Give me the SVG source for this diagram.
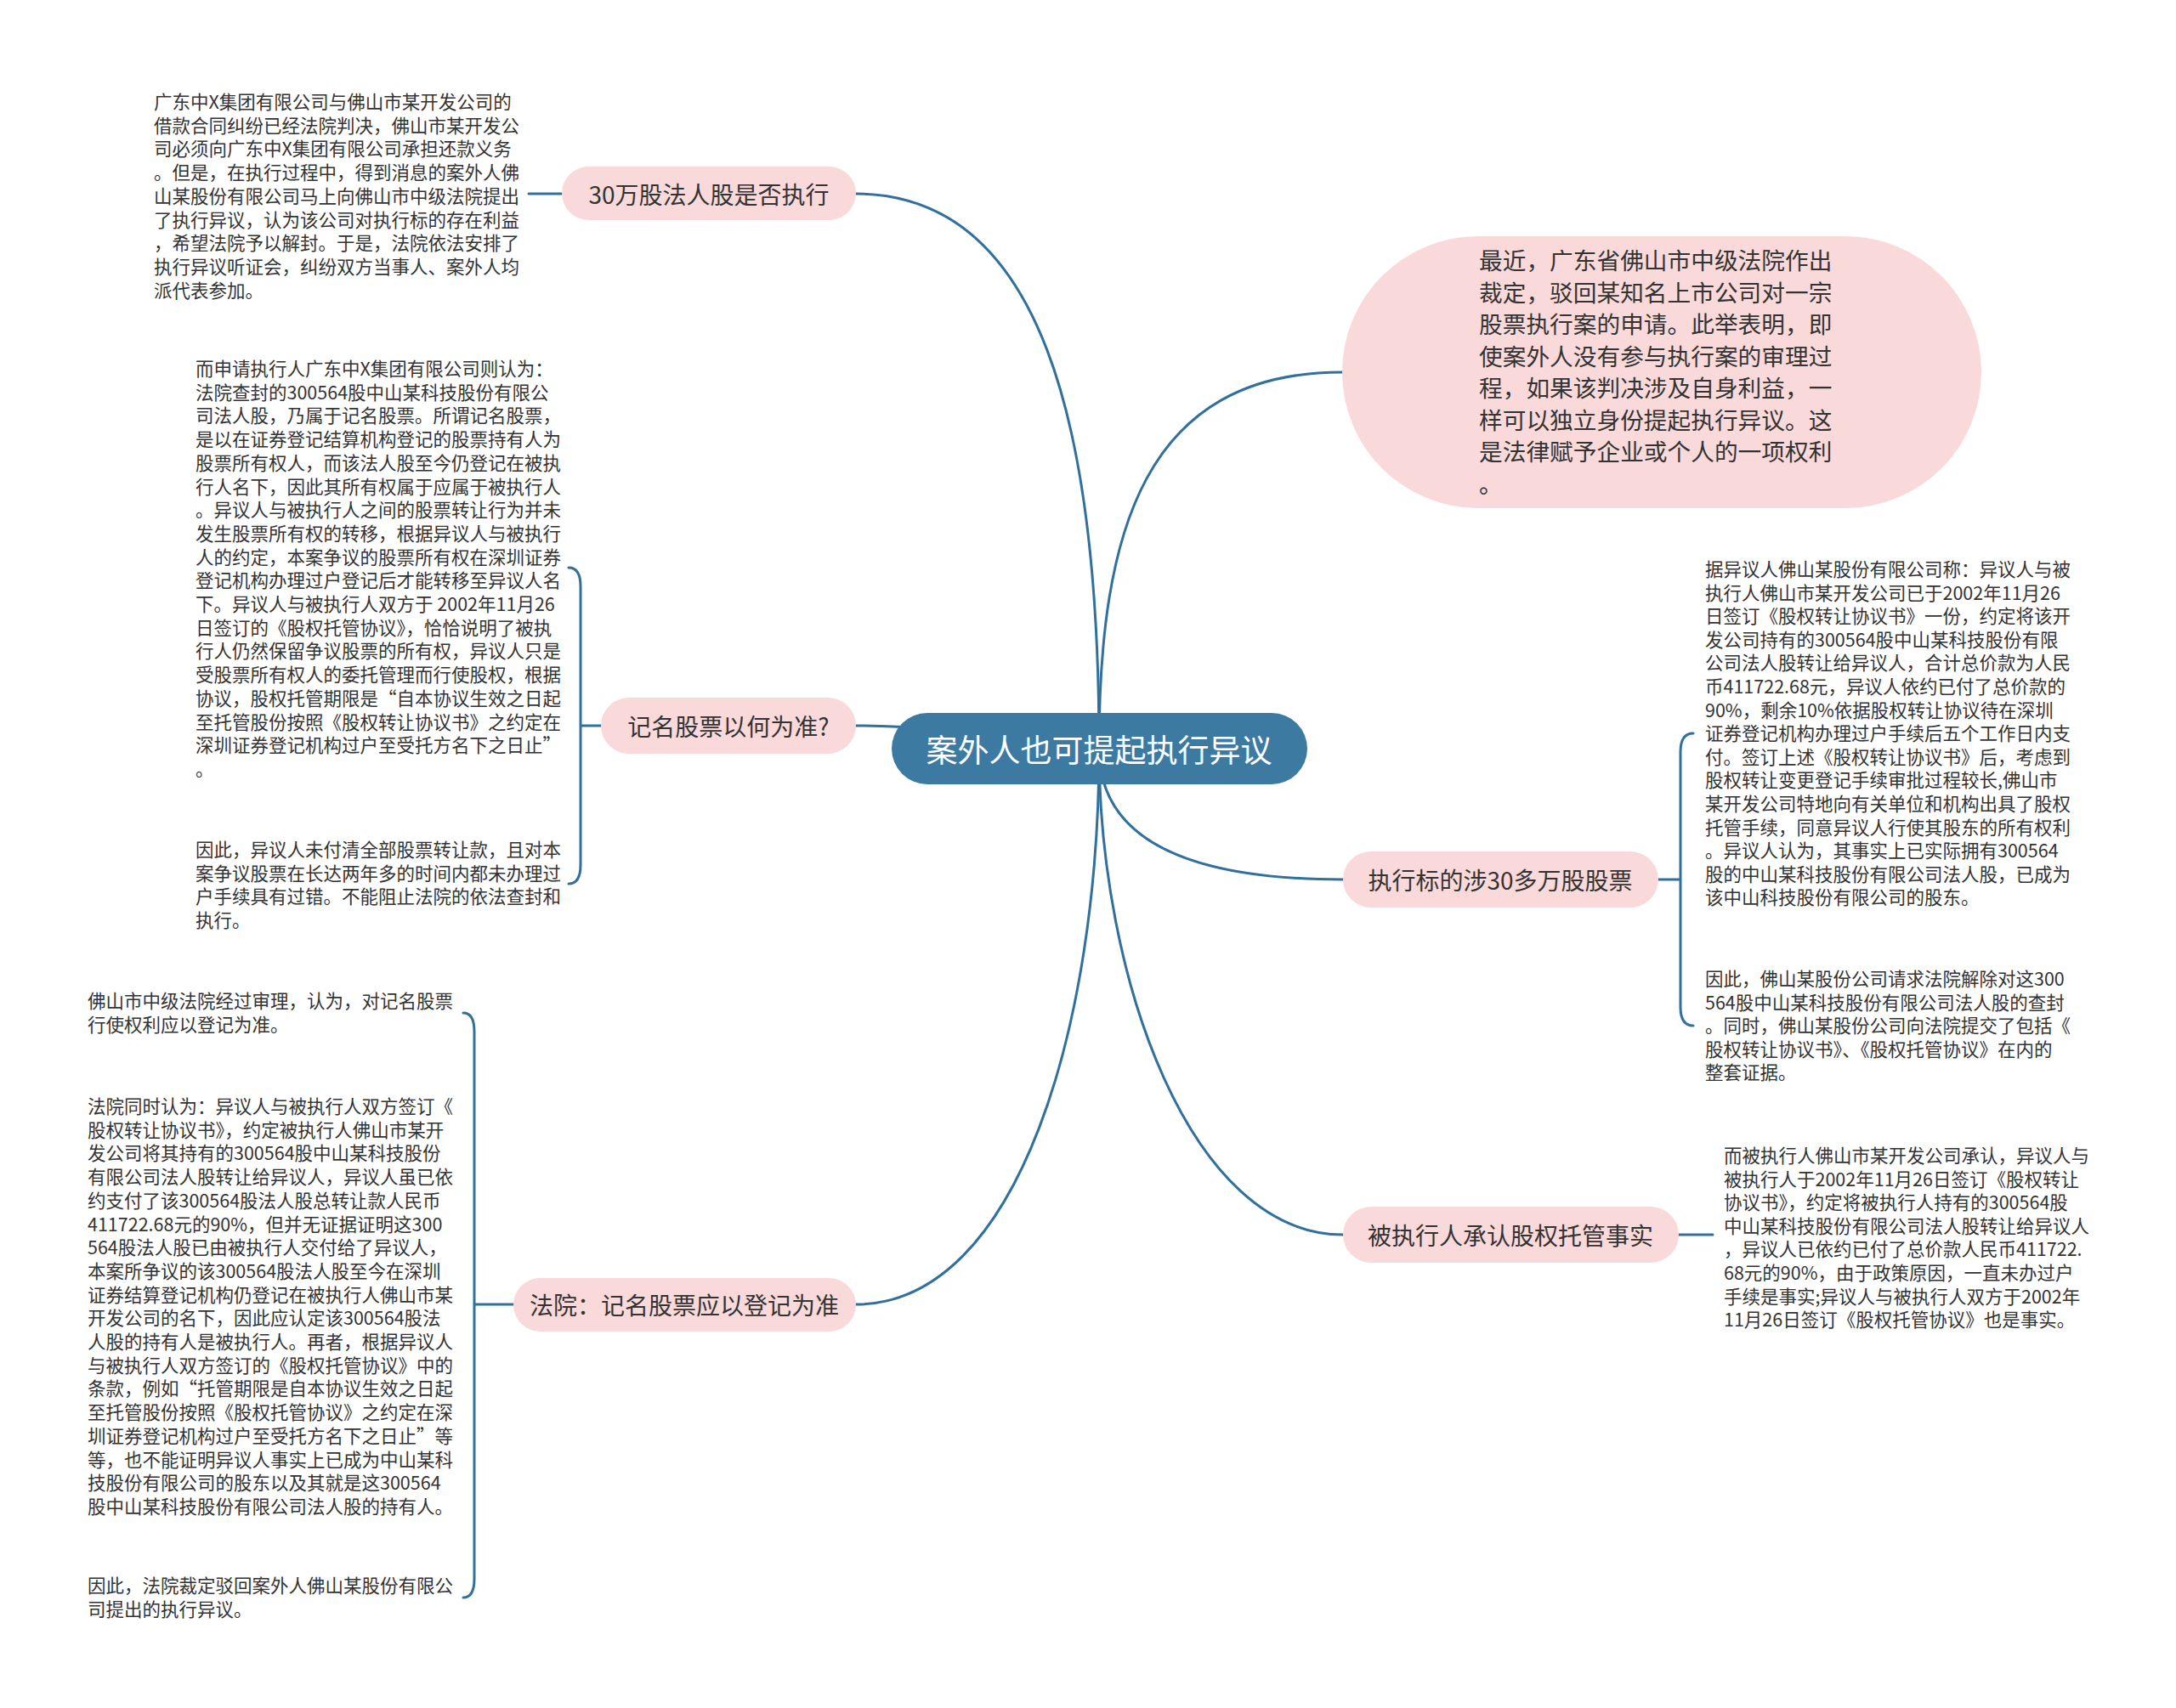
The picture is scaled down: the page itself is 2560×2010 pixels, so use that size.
<svg xmlns="http://www.w3.org/2000/svg" width="2560" height="2010" viewBox="0 0 2560 2010">
<style>
.bg{fill:#ffffff}
.c{fill:none;stroke:#30709a;stroke-width:3;stroke-linecap:round}
.t{font-family:"Noto Sans CJK SC","Microsoft YaHei",sans-serif;font-size:21.5px;fill:#333333}
.bt{font-family:"Noto Sans CJK SC","Microsoft YaHei",sans-serif;font-size:27.7px;fill:#333333}
.n{fill:#f9d9d9}
.nt{font-family:"Noto Sans CJK SC","Microsoft YaHei",sans-serif;font-size:28px;fill:#333333;text-anchor:middle;dominant-baseline:central}
.root{fill:#3d7aa2}
.rt{font-family:"Noto Sans CJK SC","Microsoft YaHei",sans-serif;font-size:37px;fill:#ffffff;text-anchor:middle;dominant-baseline:central}
</style>
<rect class="bg" x="0" y="0" width="2560" height="2010"/>
<g id="connectors">
<path class="c" d="M1293,881 C1293,500 1225,228 1007,228"/>
<path class="c" d="M1293,881 C1150,881 1150,854 1007,854"/>
<path class="c" d="M1293,881 C1293,1200 1200,1535 1007,1535"/>
<path class="c" d="M1293,881 C1293,624 1347,438 1579,438"/>
<path class="c" d="M1293,881 C1293,990 1400,1035 1580,1035"/>
<path class="c" d="M1293,881 C1293,1150 1400,1453 1580,1453"/>
<path class="c" d="M661,228 L622,228"/>
<path class="c" d="M707,854 L683,854 M669,668 Q683,668 683,690 L683,1018 Q683,1040 669,1040"/>
<path class="c" d="M604,1535 L558,1535 M545,1192 Q558,1192 558,1214 L558,1858 Q558,1880 545,1880"/>
<path class="c" d="M1951,1035 L1977,1035 M1992,863 Q1977,863 1977,885 L1977,1185 Q1977,1207 1992,1207"/>
<path class="c" d="M1975,1453 L2015,1453"/>
</g>
<g id="root">
<rect class="root" x="1049" y="839" width="489" height="84" rx="42"/>
<text class="rt" x="1293" y="881">案外人也可提起执行异议</text>
</g>
<g id="n1">
<rect class="n" x="661" y="196" width="346" height="63" rx="31.5"/>
<text class="nt" x="834" y="228">30万股法人股是否执行</text>
</g>
<g id="n2">
<rect class="n" x="707" y="821" width="300" height="66" rx="33"/>
<text class="nt" x="857" y="854">记名股票以何为准?</text>
</g>
<g id="n3">
<rect class="n" x="604" y="1504" width="403" height="63" rx="31.5"/>
<text class="nt" x="805" y="1535">法院：记名股票应以登记为准</text>
</g>
<g id="n4">
<rect class="n" x="1579" y="278" width="752" height="320" rx="160"/>
<text class="bt" x="1740" y="317"><tspan x="1740">最近，广东省佛山市中级法院作出</tspan><tspan x="1740" dy="37.5">裁定，驳回某知名上市公司对一宗</tspan><tspan x="1740" dy="37.5">股票执行案的申请。此举表明，即</tspan><tspan x="1740" dy="37.5">使案外人没有参与执行案的审理过</tspan><tspan x="1740" dy="37.5">程，如果该判决涉及自身利益，一</tspan><tspan x="1740" dy="37.5">样可以独立身份提起执行异议。这</tspan><tspan x="1740" dy="37.5">是法律赋予企业或个人的一项权利</tspan><tspan x="1740" dy="37.5">。</tspan></text>
</g>
<g id="n5">
<rect class="n" x="1580" y="1002" width="371" height="66" rx="33"/>
<text class="nt" x="1765" y="1035">执行标的涉30多万股股票</text>
</g>
<g id="n6">
<rect class="n" x="1580" y="1420" width="395" height="66" rx="33"/>
<text class="nt" x="1777" y="1453">被执行人承认股权托管事实</text>
</g>
<g id="t1">
<text class="t" x="181" y="128"><tspan x="181">广东中X集团有限公司与佛山市某开发公司的</tspan><tspan x="181" dy="27.7">借款合同纠纷已经法院判决，佛山市某开发公</tspan><tspan x="181" dy="27.7">司必须向广东中X集团有限公司承担还款义务</tspan><tspan x="181" dy="27.7">。但是，在执行过程中，得到消息的案外人佛</tspan><tspan x="181" dy="27.7">山某股份有限公司马上向佛山市中级法院提出</tspan><tspan x="181" dy="27.7">了执行异议，认为该公司对执行标的存在利益</tspan><tspan x="181" dy="27.7">，希望法院予以解封。于是，法院依法安排了</tspan><tspan x="181" dy="27.7">执行异议听证会，纠纷双方当事人、案外人均</tspan><tspan x="181" dy="27.7">派代表参加。</tspan></text>
</g>
<g id="t2">
<text class="t" x="230" y="442"><tspan x="230">而申请执行人广东中X集团有限公司则认为：</tspan><tspan x="230" dy="27.7">法院查封的300564股中山某科技股份有限公</tspan><tspan x="230" dy="27.7">司法人股，乃属于记名股票。所谓记名股票，</tspan><tspan x="230" dy="27.7">是以在证券登记结算机构登记的股票持有人为</tspan><tspan x="230" dy="27.7">股票所有权人，而该法人股至今仍登记在被执</tspan><tspan x="230" dy="27.7">行人名下，因此其所有权属于应属于被执行人</tspan><tspan x="230" dy="27.7">。异议人与被执行人之间的股票转让行为并未</tspan><tspan x="230" dy="27.7">发生股票所有权的转移，根据异议人与被执行</tspan><tspan x="230" dy="27.7">人的约定，本案争议的股票所有权在深圳证券</tspan><tspan x="230" dy="27.7">登记机构办理过户登记后才能转移至异议人名</tspan><tspan x="230" dy="27.7">下。异议人与被执行人双方于 2002年11月26</tspan><tspan x="230" dy="27.7">日签订的《股权托管协议》，恰恰说明了被执</tspan><tspan x="230" dy="27.7">行人仍然保留争议股票的所有权，异议人只是</tspan><tspan x="230" dy="27.7">受股票所有权人的委托管理而行使股权，根据</tspan><tspan x="230" dy="27.7">协议，股权托管期限是“自本协议生效之日起</tspan><tspan x="230" dy="27.7">至托管股份按照《股权转让协议书》之约定在</tspan><tspan x="230" dy="27.7">深圳证券登记机构过户至受托方名下之日止”</tspan><tspan x="230" dy="27.7">。</tspan></text>
<text class="t" x="230" y="1008"><tspan x="230">因此，异议人未付清全部股票转让款，且对本</tspan><tspan x="230" dy="27.7">案争议股票在长达两年多的时间内都未办理过</tspan><tspan x="230" dy="27.7">户手续具有过错。不能阻止法院的依法查封和</tspan><tspan x="230" dy="27.7">执行。</tspan></text>
</g>
<g id="t3">
<text class="t" x="103" y="1186"><tspan x="103">佛山市中级法院经过审理，认为，对记名股票</tspan><tspan x="103" dy="27.7">行使权利应以登记为准。</tspan></text>
<text class="t" x="103" y="1310"><tspan x="103">法院同时认为：异议人与被执行人双方签订《</tspan><tspan x="103" dy="27.7">股权转让协议书》，约定被执行人佛山市某开</tspan><tspan x="103" dy="27.7">发公司将其持有的300564股中山某科技股份</tspan><tspan x="103" dy="27.7">有限公司法人股转让给异议人，异议人虽已依</tspan><tspan x="103" dy="27.7">约支付了该300564股法人股总转让款人民币</tspan><tspan x="103" dy="27.7">411722.68元的90%，但并无证据证明这300</tspan><tspan x="103" dy="27.7">564股法人股已由被执行人交付给了异议人，</tspan><tspan x="103" dy="27.7">本案所争议的该300564股法人股至今在深圳</tspan><tspan x="103" dy="27.7">证券结算登记机构仍登记在被执行人佛山市某</tspan><tspan x="103" dy="27.7">开发公司的名下，因此应认定该300564股法</tspan><tspan x="103" dy="27.7">人股的持有人是被执行人。再者，根据异议人</tspan><tspan x="103" dy="27.7">与被执行人双方签订的《股权托管协议》中的</tspan><tspan x="103" dy="27.7">条款，例如“托管期限是自本协议生效之日起</tspan><tspan x="103" dy="27.7">至托管股份按照《股权托管协议》之约定在深</tspan><tspan x="103" dy="27.7">圳证券登记机构过户至受托方名下之日止”等</tspan><tspan x="103" dy="27.7">等，也不能证明异议人事实上已成为中山某科</tspan><tspan x="103" dy="27.7">技股份有限公司的股东以及其就是这300564</tspan><tspan x="103" dy="27.7">股中山某科技股份有限公司法人股的持有人。</tspan></text>
<text class="t" x="103" y="1874"><tspan x="103">因此，法院裁定驳回案外人佛山某股份有限公</tspan><tspan x="103" dy="27.7">司提出的执行异议。</tspan></text>
</g>
<g id="t4">
<text class="t" x="2006" y="678"><tspan x="2006">据异议人佛山某股份有限公司称：异议人与被</tspan><tspan x="2006" dy="27.6">执行人佛山市某开发公司已于2002年11月26</tspan><tspan x="2006" dy="27.6">日签订《股权转让协议书》一份，约定将该开</tspan><tspan x="2006" dy="27.6">发公司持有的300564股中山某科技股份有限</tspan><tspan x="2006" dy="27.6">公司法人股转让给异议人，合计总价款为人民</tspan><tspan x="2006" dy="27.6">币411722.68元，异议人依约已付了总价款的</tspan><tspan x="2006" dy="27.6">90%，剩余10%依据股权转让协议待在深圳</tspan><tspan x="2006" dy="27.6">证券登记机构办理过户手续后五个工作日内支</tspan><tspan x="2006" dy="27.6">付。签订上述《股权转让协议书》后，考虑到</tspan><tspan x="2006" dy="27.6">股权转让变更登记手续审批过程较长,佛山市</tspan><tspan x="2006" dy="27.6">某开发公司特地向有关单位和机构出具了股权</tspan><tspan x="2006" dy="27.6">托管手续，同意异议人行使其股东的所有权利</tspan><tspan x="2006" dy="27.6">。异议人认为，其事实上已实际拥有300564</tspan><tspan x="2006" dy="27.6">股的中山某科技股份有限公司法人股，已成为</tspan><tspan x="2006" dy="27.6">该中山科技股份有限公司的股东。</tspan></text>
<text class="t" x="2006" y="1160"><tspan x="2006">因此，佛山某股份公司请求法院解除对这300</tspan><tspan x="2006" dy="27.6">564股中山某科技股份有限公司法人股的查封</tspan><tspan x="2006" dy="27.6">。同时，佛山某股份公司向法院提交了包括《</tspan><tspan x="2006" dy="27.6">股权转让协议书》、《股权托管协议》在内的</tspan><tspan x="2006" dy="27.6">整套证据。</tspan></text>
</g>
<g id="t5">
<text class="t" x="2028" y="1368"><tspan x="2028">而被执行人佛山市某开发公司承认，异议人与</tspan><tspan x="2028" dy="27.6">被执行人于2002年11月26日签订《股权转让</tspan><tspan x="2028" dy="27.6">协议书》，约定将被执行人持有的300564股</tspan><tspan x="2028" dy="27.6">中山某科技股份有限公司法人股转让给异议人</tspan><tspan x="2028" dy="27.6">，异议人已依约已付了总价款人民币411722.</tspan><tspan x="2028" dy="27.6">68元的90%，由于政策原因，一直未办过户</tspan><tspan x="2028" dy="27.6">手续是事实;异议人与被执行人双方于2002年</tspan><tspan x="2028" dy="27.6">11月26日签订《股权托管协议》也是事实。</tspan></text>
</g>
</svg>
